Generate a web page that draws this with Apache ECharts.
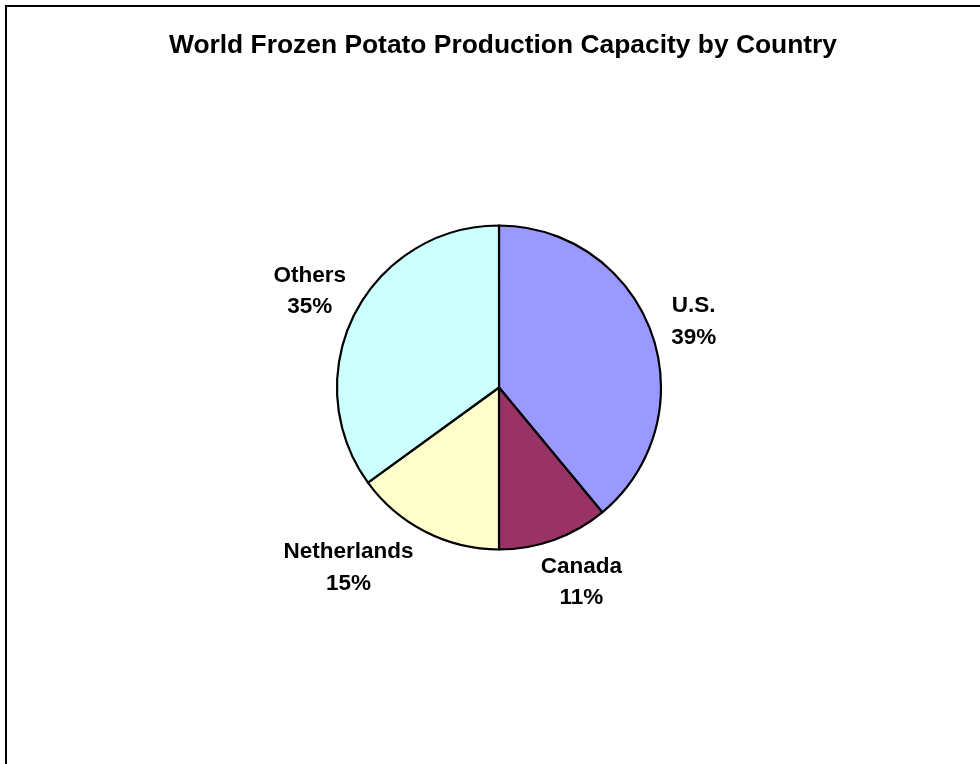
<!DOCTYPE html>
<html>
<head>
<meta charset="utf-8">
<script src="https://cdn.jsdelivr.net/npm/echarts@6/dist/echarts.min.js"></script>
<style>
html,body{margin:0;padding:0;background:#fff;}
#chart{width:980px;height:764px;}
</style>
</head>
<body>
<div id="chart"></div>
<script>
const titleText = 'World Frozen Potato Production Capacity by Country';
const categories = ['U.S.', 'Canada', 'Netherlands', 'Others'];
const shares = [39, 11, 15, 35];
const colors = ['#9999FF', '#993366', '#FFFFCC', '#CCFFFF'];
// label nudges (style only), in px
const labelNudge = [[-1, 5], [12, -1], [-56, -5], [-4, -2]];

const chart = echarts.init(document.getElementById('chart'), null, {renderer: 'canvas'});
const option = {
  backgroundColor: '#ffffff',
  animation: false,
  title: {
    text: titleText,
    left: 503,
    top: 33,
    padding: 0,
    textAlign: 'center',
    textStyle: {
      fontFamily: '"Liberation Sans", Arial, sans-serif',
      fontWeight: 'bold',
      fontSize: 26.4,
      color: '#000'
    }
  },
  graphic: [{
    type: 'rect',
    shape: {x: 6, y: 6, width: 2000, height: 2000},
    style: {fill: 'none', stroke: '#000', lineWidth: 2},
    silent: true,
    z: 100
  }],
  series: [{
    type: 'pie',
    center: [499, 387.5],
    radius: 162,
    startAngle: 90,
    clockwise: true,
    avoidLabelOverlap: false,
    data: categories.map((c, i) => ({
      name: c,
      value: shares[i],
      itemStyle: {color: colors[i]}
    })),
    itemStyle: {borderColor: '#000', borderWidth: 2.2},
    label: {
      show: true,
      position: 'outside',
      formatter: p => p.name + '\n' + Math.round(p.percent) + '%',
      fontFamily: '"Liberation Sans", Arial, sans-serif',
      fontWeight: 'bold',
      fontSize: 22.5,
      lineHeight: 31.5,
      color: '#000',
      align: 'center'
    },
    labelLine: {
      show: true,
      length: 46,
      length2: 0,
      lineStyle: {opacity: 0, width: 0}
    },
    labelLayout: function (params) {
      const pts = params.labelLinePoints;
      const n = labelNudge[params.dataIndex] || [0, 0];
      if (!pts) return {};
      return {
        x: pts[1][0] + n[0],
        y: pts[1][1] + n[1],
        align: 'center',
        verticalAlign: 'middle'
      };
    },
    emphasis: {disabled: true}
  }]
};
chart.setOption(option);
</script>
</body>
</html>
